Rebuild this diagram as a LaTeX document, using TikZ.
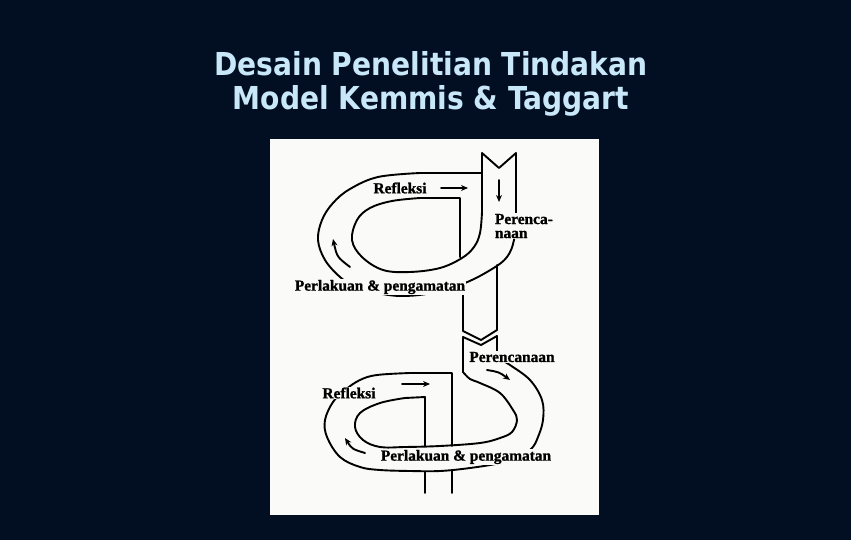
\documentclass[tikz,border=0pt]{standalone}
\usepackage{fontspec}
\setmainfont{Liberation Serif}
\newfontfamily\titlefont[FakeStretch=0.89]{DejaVu Sans}
\newfontfamily\tagfont[UprightFont={* Bold}, FakeBold=1.2]{Liberation Serif}
\usetikzlibrary{arrows.meta}

\definecolor{slidebg}{RGB}{2,14,34}
\definecolor{titleblue}{RGB}{200,232,250}
\definecolor{paper}{RGB}{250,250,249}

\begin{document}
\begin{tikzpicture}
% Style
[
    x=1pt, y=-1pt, line width=1.9pt, line cap=round, line join=round,
    title/.style={font=\titlefont\bfseries\fontsize{31.6}{34}\selectfont, text=titleblue, anchor=base},
    tag/.style={font=\tagfont\fontsize{15.4}{14}\selectfont, fill=paper, inner sep=1pt},
    flow/.style={-{Stealth[length=7pt, width=6pt]}, line width=1.9pt},
    rim/.style={draw, smooth, tension=.6}
]

%=================================== Start ===================================
{
    \useasboundingbox (0,0) rectangle (851,540);
    \fill[slidebg] (0,0) rectangle (851,540);

    \node[title] (title-1) at (431,76) {Desain Penelitian Tindakan};
    \node[title] (title-2) at (431,110) {Model Kemmis \& Taggart};

    \fill[paper] (270,139) rectangle (599,515);

    % upper loop
    \draw (482,153) -- (482,212) -- plot[rim] coordinates {(482,212) (480,233) (474,247) (462,258)
        (440,268) (410,272) (383,270) (362,257) (352,240) (357,220) (370,208) (392,201) (420,198)}
        -- (460,198) -- (460,257);
    \draw (516,153) -- (516,215) -- plot[rim] coordinates {(516,215) (514,240) (507,257) (492,269)
        (465,283) (432,293) (400,296) (372,292) (355,287) (340,277) (325,260) (318,240) (322,220)
        (333,203) (350,189) (378,177) (420,173)} -- (482,173);
    \draw (482,153) -- (499,168) -- (516,153);
    \draw (463,284) -- (463,331) -- (481,340) -- (497,330) -- (497,265);
    \draw (463,337) -- (481,345) -- (497,336);

    % lower loop
    \draw (463,337) -- (463,372) -- plot[rim] coordinates {(463,372) (470,379) (480,383) (500,393)
        (513,410) (517,420) (512,432) (500,438) (480,443) (440,446) (405,447) (380,447) (363,440)
        (355,427) (360,413) (380,403) (405,398)} -- (425,397) -- (425,446);
    \draw (497,336) -- (497,352) -- plot[rim] coordinates {(497,352) (502,360) (510,365) (530,380)
        (542,400) (543,420) (538,437) (532,448) (520,456) (500,463) (470,468) (440,471) (410,471)
        (380,470) (360,467) (340,457) (327,437) (325,420) (333,402) (345,390) (360,380) (377,375)
        (410,373)} -- (452,373) -- (452,446);
    \draw (425,472) -- (425,493);
    \draw (452,471) -- (452,493);

    % direction arrows
    \draw[flow] (441,188) -- (468,188);
    \draw[flow] (499,180) -- (499,202);
    \draw[flow] (350,267) .. controls (337,257) .. (333,239);
    \draw[flow] (402,384) -- (430,384);
    \draw[flow] (365,453) .. controls (352,449) .. (345,438);
    \draw[flow] (487,370) .. controls (499,372) .. (510,380);

    % labels
    \node[tag] (refl-1) at (400,188) {Refleksi};
    \node[tag, align=left, anchor=north west] (plan-1) at (493,212) {Perenca-\\naan};
    \node[tag] (act-1) at (380,287) {Perlakuan \& pengamatan};
    \node[tag] (plan-2) at (512,357) {Perencanaan};
    \node[tag] (refl-2) at (349,393) {Refleksi};
    \node[tag] (act-2) at (466,457) {Perlakuan \& pengamatan};
}
%==================================== END ====================================

\end{tikzpicture}
\end{document}
